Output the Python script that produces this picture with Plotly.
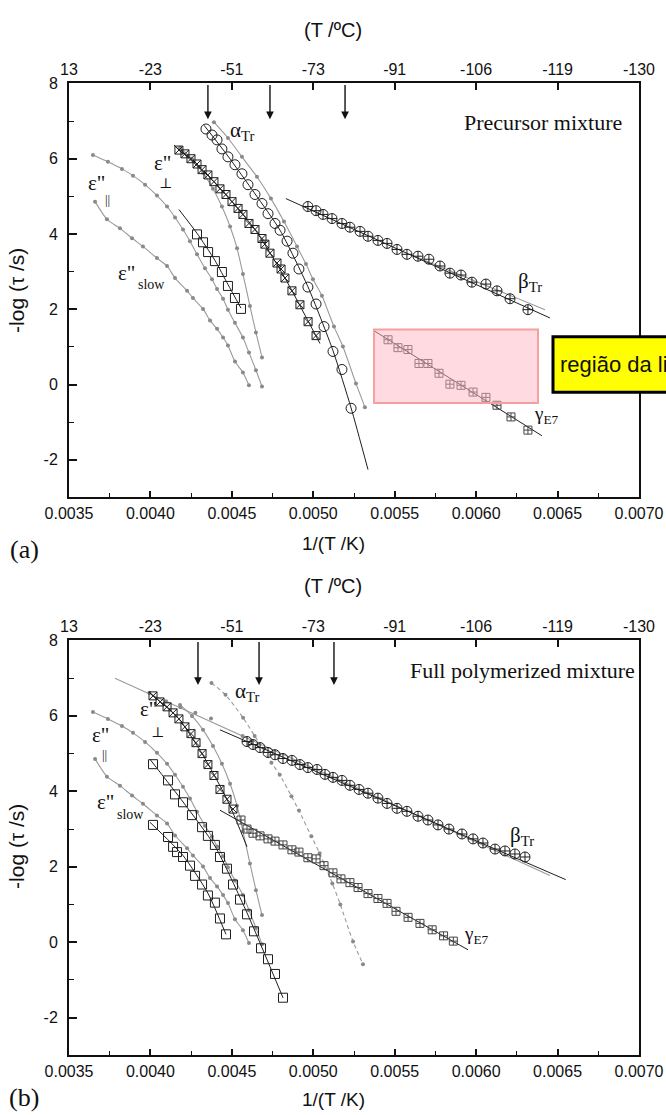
import plotly.graph_objects as go

# ---------------- data ----------------
TOP_TICKS = [0.0035, 0.0040, 0.0045, 0.0050, 0.0055, 0.0060, 0.0065, 0.0070]
TOP_TICK_TEXT = ["13", "-23", "-51", "-73", "-91", "-106", "-119", "-130"]
BOT_TICK_TEXT = ["0.0035", "0.0040", "0.0045", "0.0050", "0.0055", "0.0060", "0.0065", "0.0070"]
BOT_MINOR = [0.00375, 0.00425, 0.00475, 0.00525, 0.00575, 0.00625, 0.00675]
Y_TICKS = [-2, 0, 2, 4, 6, 8]
Y_TICK_TEXT = ["-2", "0", "2", "4", "6", "8"]
Y_MINOR = [-1, 1, 3, 5, 7]

# gray reference curves (same in both panels)
par_ref_x = [0.003647, 0.003739, 0.003825, 0.003893, 0.003967, 0.004040, 0.004102, 0.004151, 0.004200,
             0.004243, 0.004286, 0.004335, 0.004378, 0.004409, 0.004446, 0.004476, 0.004519, 0.004568,
             0.004605, 0.004648, 0.004685]
par_ref_y = [6.10, 5.92, 5.73, 5.55, 5.31, 5.02, 4.73, 4.44, 4.12, 3.81, 3.46, 3.09, 2.80, 2.54, 2.28,
             1.99, 1.64, 1.25, 0.85, 0.38, -0.05]
slow_ref_x = [0.003660, 0.003733, 0.003813, 0.003887, 0.003954, 0.004040, 0.004102, 0.004151, 0.004225,
              0.004261, 0.004323, 0.004366, 0.004409, 0.004446, 0.004476, 0.004519, 0.004568, 0.004605]
slow_ref_y = [4.86, 4.39, 4.15, 3.89, 3.67, 3.36, 3.15, 2.83, 2.49, 2.30, 2.01, 1.70, 1.48, 1.25, 1.04,
              0.61, 0.32, -0.02]
perp_ref_x = [0.004182, 0.004255, 0.004323, 0.004384, 0.004439, 0.004489, 0.004532, 0.004568, 0.004611,
              0.004648, 0.004685]
perp_ref_y = [6.29, 6.00, 5.63, 5.20, 4.73, 4.20, 3.62, 2.94, 2.09, 1.38, 0.72]
alpha_ref_x = [0.004390, 0.004476, 0.004562, 0.004654, 0.004740, 0.004820, 0.004900, 0.004955, 0.004998,
               0.005053, 0.005127, 0.005182, 0.005262, 0.005317]
alpha_ref_y = [6.97, 6.55, 6.05, 5.52, 4.94, 4.33, 3.67, 3.20, 2.80, 2.36, 1.54, 1.01, 0.03, -0.60]

# ---- panel (a): precursor mixture ----
a_alpha_x = [0.004341, 0.004378, 0.004409, 0.004439, 0.004476, 0.004519, 0.004562, 0.004599, 0.004642,
             0.004685, 0.004722, 0.004765, 0.004796, 0.004839, 0.004875, 0.004912, 0.004967, 0.005017,
             0.005066, 0.005121, 0.005176, 0.005232]
a_alpha_y = [6.79, 6.63, 6.50, 6.26, 6.05, 5.84, 5.60, 5.31, 5.05, 4.81, 4.54, 4.28, 4.10, 3.81, 3.49,
             3.07, 2.59, 2.14, 1.54, 0.88, 0.40, -0.63]
a_alpha_fit_x = [0.004329, 0.004476, 0.004642, 0.004796, 0.004967, 0.005121, 0.005232, 0.005336]
a_alpha_fit_y = [6.89, 6.07, 5.07, 4.10, 2.60, 0.90, -0.62, -2.26]

a_perp_x = [0.004175, 0.004212, 0.004249, 0.004286, 0.004317, 0.004353, 0.004390, 0.004427, 0.004464,
            0.004501, 0.004538, 0.004568, 0.004605, 0.004642, 0.004685, 0.004703, 0.004734, 0.004777,
            0.004802, 0.004826, 0.004869, 0.004918, 0.004968, 0.005017]
a_perp_y = [6.23, 6.13, 6.00, 5.86, 5.71, 5.57, 5.39, 5.20, 5.05, 4.86, 4.68, 4.52, 4.28, 4.12, 3.88,
            3.73, 3.49, 3.23, 3.07, 2.83, 2.49, 2.12, 1.67, 1.30]
a_perp_fit_x = [0.004145, 0.004390, 0.004642, 0.004826, 0.005041]
a_perp_fit_y = [6.36, 5.39, 4.12, 2.83, 1.09]

a_par_x = [0.004286, 0.004323, 0.004354, 0.004396, 0.004439, 0.004476, 0.004519, 0.004556]
a_par_y = [3.99, 3.78, 3.52, 3.28, 2.99, 2.62, 2.30, 2.01]
a_par_fit_x = [0.004175, 0.004286, 0.004396, 0.004476, 0.004556]
a_par_fit_y = [4.65, 4.02, 3.30, 2.66, 2.03]

a_beta_x = [0.004967, 0.005017, 0.005060, 0.005115, 0.005176, 0.005225, 0.005287, 0.005336, 0.005397,
            0.005453, 0.005514, 0.005575, 0.005643, 0.005710, 0.005778, 0.005839, 0.005907, 0.005974,
            0.006060, 0.006128, 0.006208, 0.006318]
a_beta_y = [4.73, 4.62, 4.52, 4.41, 4.28, 4.18, 4.07, 3.94, 3.83, 3.75, 3.59, 3.46, 3.41, 3.33, 3.15,
            2.96, 2.91, 2.72, 2.67, 2.49, 2.28, 1.99]
a_beta_fit_x = [0.004832, 0.006453]
a_beta_fit_y = [4.94, 1.77]
a_beta_ref_x = [0.005600, 0.006423]
a_beta_ref_y = [3.45, 1.99]

a_gamma_x = [0.005459, 0.005520, 0.005581, 0.005649, 0.005704, 0.005772, 0.005839, 0.005907, 0.005981,
             0.006060, 0.006128, 0.006214, 0.006318]
a_gamma_y = [1.19, 0.98, 0.93, 0.56, 0.56, 0.30, 0.01, -0.02, -0.20, -0.34, -0.55, -0.86, -1.21]
a_gamma_fit_x = [0.005373, 0.006404]
a_gamma_fit_y = [1.43, -1.36]

a_arrows_x = [0.004353, 0.004734, 0.005195]

# ---- panel (b): full polymerized mixture ----
b_alpha_ref_x = [0.004375, 0.004461, 0.004569, 0.004640, 0.004743, 0.004794, 0.004866, 0.004912,
                 0.004988, 0.005039, 0.005117, 0.005166, 0.005244, 0.005305]
b_alpha_ref_y = [6.87, 6.56, 5.95, 5.47, 4.76, 4.44, 3.87, 3.49, 2.81, 2.36, 1.56, 1.00, 0.02, -0.58]

b_beta_ref_x = [0.003782, 0.006453]
b_beta_ref_y = [7.00, 1.77]
b_beta_dots_x = [0.003993, 0.004096, 0.004184, 0.004276, 0.004372, 0.004566]
b_beta_dots_y = [6.61, 6.39, 6.23, 6.08, 5.93, 5.47]

b_perp_x = [0.004016, 0.004059, 0.004102, 0.004139, 0.004175, 0.004212, 0.004249, 0.004280, 0.004317,
            0.004353, 0.004390, 0.004427, 0.004470, 0.004507]
b_perp_y = [6.53, 6.37, 6.24, 6.08, 5.92, 5.71, 5.53, 5.29, 5.00, 4.71, 4.42, 4.05, 3.79, 3.53]
b_perp_fit_x = [0.003997, 0.004175, 0.004317, 0.004470, 0.004593]
b_perp_fit_y = [6.61, 5.92, 5.00, 3.79, 2.53]

b_par_x = [0.004016, 0.004108, 0.004151, 0.004200, 0.004255, 0.004317, 0.004353, 0.004396, 0.004427,
           0.004470, 0.004507, 0.004550, 0.004593, 0.004636, 0.004679, 0.004722, 0.004765, 0.004814]
b_par_y = [4.72, 4.29, 3.92, 3.71, 3.37, 3.05, 2.82, 2.58, 2.26, 1.95, 1.53, 1.13, 0.74, 0.29, -0.16,
           -0.45, -0.84, -1.47]
b_par_fit_x = [0.003997, 0.004200, 0.004396, 0.004593, 0.004814]
b_par_fit_y = [4.85, 3.72, 2.55, 0.78, -1.47]

b_slow_x = [0.004016, 0.004108, 0.004139, 0.004163, 0.004200, 0.004243, 0.004274, 0.004317, 0.004353,
            0.004396, 0.004427, 0.004464]
b_slow_y = [3.11, 2.79, 2.53, 2.39, 2.26, 2.03, 1.76, 1.53, 1.24, 1.05, 0.63, 0.21]
b_slow_fit_x = [0.003997, 0.004200, 0.004353, 0.004464]
b_slow_fit_y = [3.18, 2.30, 1.30, 0.21]

b_beta_x = [0.004593, 0.004630, 0.004673, 0.004722, 0.004765, 0.004814, 0.004869, 0.004918, 0.004967,
            0.005023, 0.005072, 0.005121, 0.005176, 0.005225, 0.005281, 0.005336, 0.005397, 0.005453,
            0.005514, 0.005575, 0.005643, 0.005704, 0.005766, 0.005833, 0.005913, 0.005981, 0.006042,
            0.006116, 0.006177, 0.006238, 0.006300]
b_beta_y = [5.32, 5.24, 5.16, 5.03, 4.97, 4.87, 4.82, 4.71, 4.63, 4.58, 4.45, 4.37, 4.29, 4.16, 4.05,
            3.95, 3.82, 3.68, 3.55, 3.47, 3.34, 3.24, 3.11, 3.00, 2.87, 2.74, 2.63, 2.47, 2.42, 2.34, 2.26]
b_beta_fit_x = [0.004427, 0.006550]
b_beta_fit_y = [5.63, 1.66]

b_gamma_x = [0.004556, 0.004593, 0.004630, 0.004673, 0.004722, 0.004765, 0.004814, 0.004869, 0.004912,
             0.004967, 0.005017, 0.005066, 0.005121, 0.005170, 0.005225, 0.005275, 0.005336, 0.005397,
             0.005453, 0.005508, 0.005582, 0.005655, 0.005730, 0.005800, 0.005860]
b_gamma_y = [3.24, 3.00, 2.89, 2.82, 2.74, 2.68, 2.58, 2.45, 2.39, 2.24, 2.21, 2.03, 1.84, 1.68, 1.58,
             1.45, 1.29, 1.16, 1.03, 0.82, 0.66, 0.50, 0.33, 0.17, 0.03]
b_gamma_fit_x = [0.004427, 0.005950]
b_gamma_fit_y = [3.50, -0.20]

b_arrows_x = [0.004292, 0.004667, 0.005127]

# ---------------- figure ----------------
W, H = 666, 1115
L, R = 69, 639
SERIF = "Liberation Serif, Times New Roman, serif"
SYM = "DejaVu Serif, serif"
SANS = "Liberation Sans, Arial, sans-serif"
BLACK = "#1e1e1e"
GRAY = "#9a9a9a"
GRAYDOT = "#8a8a8a"

fig = go.Figure()


def line(xs, ys, xa, ya, color=BLACK, width=1.0, dash="solid"):
    fig.add_trace(go.Scatter(x=xs, y=ys, xaxis=xa, yaxis=ya, mode="lines",
                             line=dict(color=color, width=width, dash=dash, shape="spline", smoothing=0.6),
                             hoverinfo="skip", showlegend=False))


def marks(xs, ys, xa, ya, symbol, size, color=BLACK, lw=1.0):
    fig.add_trace(go.Scatter(x=xs, y=ys, xaxis=xa, yaxis=ya, mode="markers",
                             marker=dict(symbol=symbol, size=size, color=color,
                                         line=dict(color=color, width=lw)),
                             showlegend=False))


def gray_ref(xs, ys, xa, ya, dash="solid"):
    fig.add_trace(go.Scatter(x=xs, y=ys, xaxis=xa, yaxis=ya, mode="lines+markers",
                             line=dict(color=GRAY, width=1.1, dash=dash, shape="spline", smoothing=0.6),
                             marker=dict(symbol="circle", size=4, color=GRAYDOT),
                             showlegend=False))


for xa, ya in (("x", "y"), ("x2", "y2")):
    gray_ref(par_ref_x, par_ref_y, xa, ya)
    gray_ref(slow_ref_x, slow_ref_y, xa, ya)
    gray_ref(perp_ref_x, perp_ref_y, xa, ya)

# panel a
gray_ref(alpha_ref_x, alpha_ref_y, "x", "y")
line(a_beta_ref_x, a_beta_ref_y, "x", "y", color=GRAY, width=1.1)
line(a_alpha_fit_x, a_alpha_fit_y, "x", "y")
marks(a_alpha_x, a_alpha_y, "x", "y", "circle-open", 10)
line(a_perp_fit_x, a_perp_fit_y, "x", "y")
marks(a_perp_x, a_perp_y, "x", "y", "square-x-open", 8)
line(a_par_fit_x, a_par_fit_y, "x", "y")
marks(a_par_x, a_par_y, "x", "y", "square-open", 9)
line(a_beta_fit_x, a_beta_fit_y, "x", "y")
marks(a_beta_x, a_beta_y, "x", "y", "circle-cross-open", 10)
line(a_gamma_fit_x, a_gamma_fit_y, "x", "y")
marks(a_gamma_x, a_gamma_y, "x", "y", "square-cross-open", 8, color="#444444")

# panel b
gray_ref(b_alpha_ref_x, b_alpha_ref_y, "x2", "y2", dash="4px,3px")
line(b_beta_ref_x, b_beta_ref_y, "x2", "y2", color=GRAY, width=1.1)
fig.add_trace(go.Scatter(x=b_beta_dots_x, y=b_beta_dots_y, xaxis="x2", yaxis="y2", mode="markers",
                         marker=dict(size=4, color=GRAYDOT), showlegend=False))
line(b_perp_fit_x, b_perp_fit_y, "x2", "y2")
marks(b_perp_x, b_perp_y, "x2", "y2", "square-x-open", 8)
line(b_par_fit_x, b_par_fit_y, "x2", "y2")
marks(b_par_x, b_par_y, "x2", "y2", "square-open", 9)
line(b_slow_fit_x, b_slow_fit_y, "x2", "y2")
marks(b_slow_x, b_slow_y, "x2", "y2", "square-open", 9)
line(b_beta_fit_x, b_beta_fit_y, "x2", "y2")
marks(b_beta_x, b_beta_y, "x2", "y2", "circle-cross-open", 10)
line(b_gamma_fit_x, b_gamma_fit_y, "x2", "y2")
marks(b_gamma_x, b_gamma_y, "x2", "y2", "square-cross-open", 8, color="#444444")

# invisible traces so that the top (ºC) axes are drawn
for xa, ya in (("x3", "y"), ("x4", "y2")):
    fig.add_trace(go.Scatter(x=TOP_TICKS, y=[Y_TICKS[-1]] * len(TOP_TICKS), xaxis=xa, yaxis=ya,
                             mode="markers", marker=dict(size=1, opacity=0), hoverinfo="skip",
                             showlegend=False))

# ---------------- axes ----------------
XR = [0.0035, 0.0070]
YR = [-3, 8]
dom_a = [1 - 493 / H, 1 - 76 / H]
dom_b = [1 - 1055 / H, 1 - 637 / H]
tickfont = dict(family=SANS, size=16, color="#111")


def xbottom(anchor):
    return dict(range=XR, domain=[0, 1], anchor=anchor, tickvals=TOP_TICKS, ticktext=BOT_TICK_TEXT,
                ticks="inside", ticklen=6, tickwidth=1.5, tickcolor="#111", showline=True, linewidth=2,
                linecolor="#111", showgrid=False, zeroline=False, tickfont=tickfont,
                minor=dict(tickvals=BOT_MINOR, ticks="inside", ticklen=4, tickwidth=1.2, tickcolor="#111"))


def xtop(overlay, anchor):
    return dict(range=XR, overlaying=overlay, anchor=anchor, side="top", tickvals=TOP_TICKS,
                ticktext=TOP_TICK_TEXT, ticks="inside", ticklen=7, tickwidth=1.5, tickcolor="#111",
                showline=True, linewidth=2, linecolor="#111", showgrid=False, zeroline=False,
                tickfont=tickfont)


def yax(dom, anchor):
    return dict(range=YR, domain=dom, anchor=anchor, tickvals=Y_TICKS, ticktext=Y_TICK_TEXT,
                ticks="inside", ticklen=8, tickwidth=1.5, tickcolor="#111", showline=True, linewidth=2,
                linecolor="#111", mirror=True, showgrid=False, zeroline=False, tickfont=tickfont,
                ticklabelstandoff=6,
                minor=dict(tickvals=Y_MINOR, ticks="inside", ticklen=5, tickwidth=1.2, tickcolor="#111"))


fig.update_layout(
    width=W, height=H, margin=dict(l=L, r=W - R, t=0, b=0),
    paper_bgcolor="white", plot_bgcolor="white", showlegend=False,
    xaxis=xbottom("y"), yaxis=yax(dom_a, "x"), xaxis3=xtop("x", "y"),
    xaxis2=xbottom("y2"), yaxis2=yax(dom_b, "x2"), xaxis4=xtop("x2", "y2"),
)


def P(px, py):
    return (px - L) / (R - L), 1 - py / H


anns = []


def text(px, py, s, size, family, xanchor="left", angle=0):
    x, y = P(px, py)
    anns.append(dict(x=x, y=y, xref="paper", yref="paper", text=s, showarrow=False, xanchor=xanchor,
                     yanchor="middle", textangle=angle, font=dict(family=family, size=size, color="#111")))


for off, lab, lab_y in ((0, "(a)", 545), (560, "(b)", 1097)):
    text(333, 22 + off, "(T /ºC)", 20, SANS, "center")
    text(333, 539 + off, "1/(T /K)", 19, SANS, "center")
    text(17, 285 + off, "-log (τ /s)", 21, SANS, "center", angle=-90)
    text(24, lab_y, lab, 26, SERIF, "center")

text(543, 115, "Precursor mixture", 22, SERIF, "center")
text(228, 124, "α<sub>Tr</sub>", 21, SERIF)
text(152, 156, "ε\"", 21, SERIF); text(165, 176, "⊥", 14, SYM, "center")
text(86, 176, "ε\"", 21, SERIF); text(107, 193, "||", 13, SERIF, "center")
text(116, 267, "ε\"", 21, SERIF); text(136, 279, "slow", 14, SERIF)
text(516, 276, "β<sub>Tr</sub>", 21, SERIF)
text(532, 410, "γ<sub>E7</sub>", 19, SERIF)

text(408, 667, "Full polymerized mixture", 22, SERIF)
text(233, 689, "α<sub>Tr</sub>", 21, SERIF)
text(138, 706, "ε\"", 21, SERIF); text(157, 729, "⊥", 14, SYM, "center")
text(90, 732, "ε\"", 21, SERIF); text(104, 752, "||", 13, SERIF, "center")
text(95, 800, "ε\"", 21, SERIF); text(115, 812, "slow", 14, SERIF)
text(508, 834, "β<sub>Tr</sub>", 21, SERIF)
text(462, 934, "γ<sub>E7</sub>", 19, SERIF)

# arrows marking temperatures
for xs, xa, ya, tip in ((a_arrows_x, "x", "y", 7.05), (b_arrows_x, "x2", "y2", 6.82)):
    for xv in xs:
        anns.append(dict(x=xv, y=tip, xref=xa, yref=ya, ax=xv, ay=8, axref=xa, ayref=ya, showarrow=True,
                         arrowhead=2, arrowsize=1.1, arrowwidth=1.4, arrowcolor="#111", text=""))

# yellow call-out box (partly outside the page)
x0, y0 = P(553, 331)
x1, y1 = P(720, 387)
shapes = [
    dict(type="rect", xref="x", yref="y", x0=0.005373, x1=0.006380, y0=-0.49, y1=1.46,
         fillcolor="rgba(255,182,193,0.5)", line=dict(color="#f4a0a0", width=2), layer="above"),
    dict(type="rect", xref="paper", yref="paper", x0=x0, x1=x1, y0=y1, y1=y0,
         fillcolor="#ffff00", line=dict(color="#000", width=3), layer="above"),
]
text(558, 359, "região da linha", 22, SANS)

fig.update_layout(annotations=anns, shapes=shapes)
fig.write_html("out.html")
